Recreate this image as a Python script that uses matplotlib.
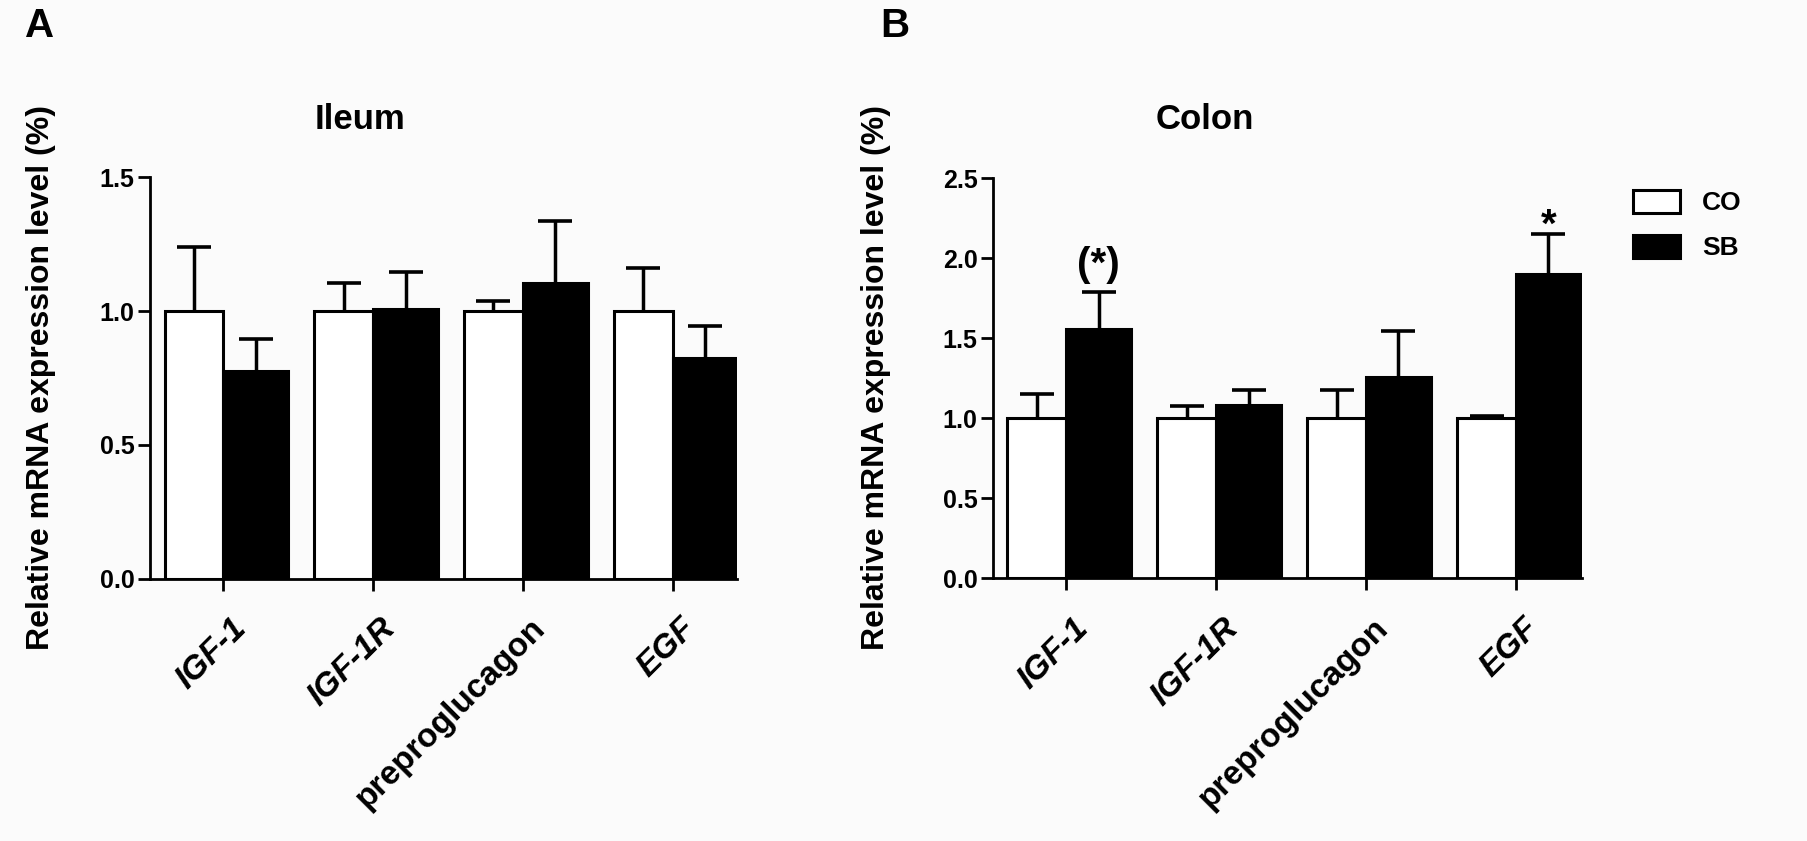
import numpy as np
import matplotlib
matplotlib.use("Agg")
import matplotlib.pyplot as plt
from matplotlib.transforms import offset_copy

plt.rcParams['font.family'] = ['Liberation Sans', 'DejaVu Sans']
plt.rcParams['font.weight'] = 'bold'

# data (relative mRNA expression, CO = control, SB = treatment)
genes = ['IGF-1', 'IGF-1R', 'preproglucagon', 'EGF']
gene_italic = [True, True, False, True]

ileum_co = [1.0, 1.0, 1.0, 1.0]
ileum_co_err = [0.24, 0.105, 0.036, 0.16]
ileum_sb = [0.777, 1.007, 1.103, 0.824]
ileum_sb_err = [0.117, 0.14, 0.235, 0.12]

colon_co = [1.0, 1.0, 1.0, 1.0]
colon_co_err = [0.153, 0.08, 0.178, 0.017]
colon_sb = [1.561, 1.086, 1.258, 1.904]
colon_sb_err = [0.226, 0.088, 0.287, 0.245]

colon_marks = ['(*)', '', '', '*']

W, H = 1807, 841
fig = plt.figure(figsize=(W / 100, H / 100), dpi=100, facecolor='#fbfbfb')

w_co, w_sb = 0.393, 0.433
lw = 2.2


def upper_err(ax, xpos, vals, errs):
    # only the upper half of the error bar, with a flat cap
    vals = np.asarray(vals)
    tops = vals + np.asarray(errs)
    ax.vlines(xpos, vals, tops, color='black', linewidth=2.5, zorder=1)
    ax.plot(xpos, tops, ls='none', marker='_', ms=25, mew=2.6, color='black', zorder=1)


def panel(rect, co, co_err, sb, sb_err, ymax, yticks, title, title_x):
    ax = fig.add_axes(rect)
    ax.set_facecolor('none')
    x = np.arange(len(genes))
    upper_err(ax, x - w_co / 2, co, co_err)
    upper_err(ax, x + w_sb / 2, sb, sb_err)
    b1 = ax.bar(x - w_co, co, width=w_co, align='edge', color='white',
                edgecolor='black', linewidth=lw, zorder=2, label='CO')
    b2 = ax.bar(x, sb, width=w_sb, align='edge', color='black',
                edgecolor='black', linewidth=lw, zorder=2, label='SB')
    ax.set_ylim(0, ymax)
    ax.set_yticks(yticks)
    ax.set_yticklabels([f'{t:.1f}' for t in yticks])
    ax.set_xticks(x)
    ax.set_xticklabels([])
    for s in ['top', 'right']:
        ax.spines[s].set_visible(False)
    for s in ['left', 'bottom']:
        ax.spines[s].set_linewidth(2.0)
    ax.tick_params(axis='both', direction='out', length=8.6, width=2.0,
                   labelsize=18, pad=2.5)
    ax.set_xlim(-0.49, 3.43)

    # rotated gene labels
    tr = offset_copy(ax.get_xaxis_transform(), fig=fig, x=18, y=-45, units='dots')
    for i, (g, it) in enumerate(zip(genes, gene_italic)):
        ax.text(i, 0, g, transform=tr, rotation=45, rotation_mode='anchor',
                ha='right', va='center', fontsize=24,
                fontstyle='italic' if it else 'normal')

    fig.text(title_x / W, 1 - 129 / H, title, ha='center', va='baseline', fontsize=25)
    return ax, b1, b2


axA, _, _ = panel([150 / W, 1 - 578.5 / H, (737 - 150) / W, (578.5 - 177.3) / H],
                  ileum_co, ileum_co_err, ileum_sb, ileum_sb_err,
                  1.5, [0.0, 0.5, 1.0, 1.5], 'Ileum', 360)
axB, b1, b2 = panel([993 / W, 1 - 578.3 / H, (1582 - 993) / W, (578.3 - 178.3) / H],
                    colon_co, colon_co_err, colon_sb, colon_sb_err,
                    2.5, [0.0, 0.5, 1.0, 1.5, 2.0, 2.5], 'Colon', 1205)
axB.set_xlim(-0.487, 3.44)

# significance marks
for i, m in enumerate(colon_marks):
    if not m:
        continue
    top = colon_sb[i] + colon_sb_err[i]
    dy = 12 if m == '(*)' else -2
    axB.annotate(m, (i + w_sb / 2, top), xytext=(0, dy), textcoords='offset points',
                 ha='center', va='baseline', fontsize=29)

# y labels
ylab = 'Relative mRNA expression level (%)'
fig.text(41 / W, 1 - 378 / H, ylab, rotation=90, ha='center', va='center', fontsize=23)
fig.text(876 / W, 1 - 378 / H, ylab, rotation=90, ha='center', va='center', fontsize=23)

# panel letters
fig.text(25 / W, 1 - 37 / H, 'A', ha='left', va='baseline', fontsize=29)
fig.text(880 / W, 1 - 37 / H, 'B', ha='left', va='baseline', fontsize=29)

# legend
fig.legend(handles=[b1, b2], labels=['CO', 'SB'], loc='upper left',
           bbox_to_anchor=(1633 / W, 1 - 190 / H), frameon=False, fontsize=19,
           handlelength=1.78, handleheight=0.95, labelspacing=0.74,
           handletextpad=0.83, borderpad=0, borderaxespad=0)

fig.savefig('out.png', dpi=100, facecolor=fig.get_facecolor())
